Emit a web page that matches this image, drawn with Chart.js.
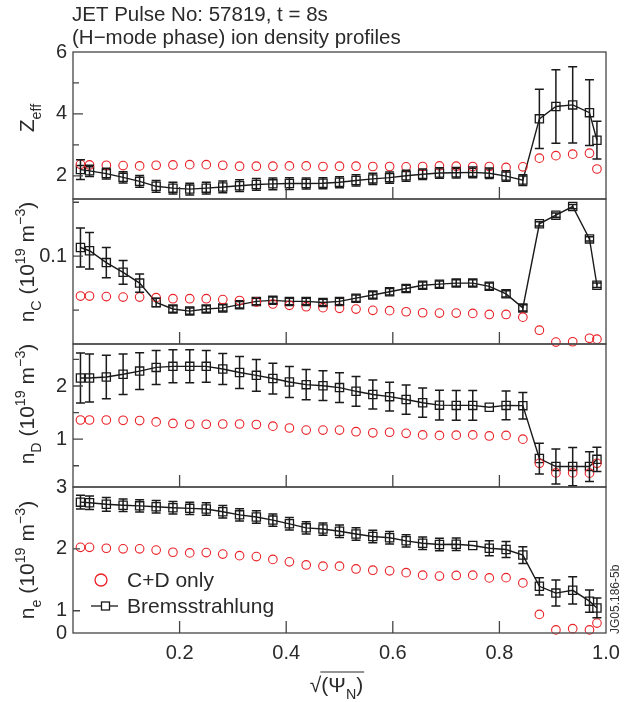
<!DOCTYPE html>
<html>
<head>
<meta charset="utf-8">
<script src="https://cdn.jsdelivr.net/npm/chart.js@4.4.1/dist/chart.umd.min.js"></script>
<style>
  body { margin: 0; background: #fff; }
  #wrap { position: relative; width: 633px; height: 702px; }
  #wrap canvas { position: absolute; left: 0; top: 0; }
</style>
</head>
<body>
<div id="wrap">
  <canvas id="zeff" width="633" height="702"></canvas>
  <canvas id="nc" width="633" height="702"></canvas>
  <canvas id="nd" width="633" height="702"></canvas>
  <canvas id="ne" width="633" height="702"></canvas>
</div>
<script>
// sqrt(psi_N) positions of the profile points
const psi = [0.014, 0.031, 0.0625, 0.094, 0.125, 0.156, 0.1875, 0.219, 0.25, 0.281, 0.3125, 0.344, 0.375, 0.406, 0.4375, 0.469, 0.5,
    0.531, 0.5625, 0.594, 0.625, 0.656, 0.6875, 0.719, 0.75, 0.781, 0.8125, 0.844, 0.875, 0.906, 0.9375, 0.969, 0.983]

const xTicks = [0.2, 0.4, 0.6, 0.8, 1.0]
const xTickLabels = ['0.2', '0.4', '0.6', '0.8', '1.0']

// Z_eff
const zeffCD = [2.37, 2.35, 2.34, 2.33, 2.32, 2.34, 2.35, 2.36, 2.36, 2.34, 2.31, 2.31, 2.31, 2.32, 2.32, 2.30, 2.31, 2.31, 2.30, 2.30,
    2.29, 2.30, 2.32, 2.31, 2.30, 2.30, 2.27, 2.29, 2.57, 2.65, 2.70, 2.73, 2.22]
const zeffBrems = [2.2, 2.16, 2.07, 1.95, 1.82, 1.66, 1.6, 1.57, 1.6, 1.64, 1.68, 1.72, 1.74, 1.75, 1.75, 1.76, 1.79, 1.85, 1.9, 1.94,
    2.0, 2.05, 2.09, 2.1, 2.11, 2.08, 1.99, 1.86, 3.84, 4.24, 4.29, 4.04, 3.15]
const zeffErr = [0.32, 0.18, 0.17, 0.18, 0.19, 0.19, 0.19, 0.19, 0.19, 0.19, 0.19, 0.19, 0.19, 0.19, 0.18, 0.18, 0.18, 0.18, 0.18, 0.18,
    0.18, 0.17, 0.17, 0.17, 0.17, 0.17, 0.17, 0.17, 0.96, 1.19, 1.23, 1.06, 0.61]
const zeffTicks = [2, 3, 4, 5, 6]
const zeffTickLabels = ['2', '', '4', '', '6']

// n_C
const ncCD = [0.063, 0.063, 0.0625, 0.062, 0.062, 0.0615, 0.0605, 0.0605, 0.0605, 0.0597, 0.0588, 0.0575, 0.0556, 0.0544, 0.0531,
    0.0522, 0.0516, 0.0509, 0.0497, 0.0494, 0.0484, 0.0475, 0.0472, 0.0472, 0.0469, 0.0459, 0.0459, 0.0434, 0.0313, 0.0203, 0.0206,
    0.0238, 0.023]
const ncBrems = [0.108, 0.105, 0.094, 0.085, 0.075, 0.057, 0.051, 0.049, 0.051, 0.052, 0.055, 0.058, 0.059, 0.058, 0.058, 0.057,
    0.058, 0.061, 0.064, 0.067, 0.070, 0.073, 0.074, 0.075, 0.075, 0.072, 0.065, 0.052, 0.130, 0.138, 0.146, 0.116, 0.073]
const ncErr = [0.018, 0.017, 0.014, 0.011, 0.0085, 0.004, 0.003, 0.003, 0.003, 0.003, 0.003, 0.003, 0.003, 0.003, 0.003, 0.003,
    0.003, 0.003, 0.003, 0.003, 0.003, 0.003, 0.003, 0.003, 0.003, 0.003, 0.003, 0.003, 0.002, 0.002, 0.002, 0.002, 0.002]
const ncTicks = [0.05, 0.1, 0.15]
const ncTickLabels = ['', '0.1', '']

// n_D
const ndCD = [1.36, 1.36, 1.36, 1.355, 1.35, 1.325, 1.295, 1.28, 1.28, 1.285, 1.285, 1.275, 1.245, 1.21, 1.17, 1.17, 1.17, 1.14,
    1.12, 1.13, 1.11, 1.08, 1.07, 1.075, 1.08, 1.06, 1.07, 1.0, 0.545, 0.365, 0.365, 0.36, 0.545]
const ndBrems = [2.15, 2.15, 2.17, 2.22, 2.28, 2.35, 2.37, 2.37, 2.37, 2.32, 2.255, 2.2, 2.14, 2.075, 2.025, 2.005, 1.97, 1.9, 1.84,
    1.8, 1.745, 1.685, 1.64, 1.635, 1.635, 1.6, 1.635, 1.63, 0.635, 0.485, 0.485, 0.485, 0.62]
const ndErr = [0.47, 0.45, 0.41, 0.38, 0.345, 0.32, 0.31, 0.31, 0.3, 0.29, 0.3, 0.3, 0.29, 0.29, 0.285, 0.28, 0.28, 0.28, 0.275,
    0.27, 0.275, 0.275, 0.28, 0.28, 0.28, 0, 0.27, 0.25, 0.29, 0.33, 0.36, 0.28, 0.23]
const ndTicks = [0.5, 1, 1.5, 2, 2.5]
const ndTickLabels = ['', '1', '', '2', '']

// n_e
const neCD = [2.025, 2.025, 2.01, 2.0, 2.0, 1.98, 1.945, 1.935, 1.94, 1.915, 1.89, 1.875, 1.83, 1.79, 1.74, 1.72, 1.72, 1.675,
    1.655, 1.645, 1.615, 1.575, 1.56, 1.57, 1.575, 1.53, 1.535, 1.45, 0.94, 0.69, 0.71, 0.69, 0.8]
const neBrems = [2.755, 2.745, 2.72, 2.705, 2.695, 2.68, 2.665, 2.655, 2.645, 2.6, 2.55, 2.515, 2.465, 2.405, 2.34, 2.32, 2.285,
    2.24, 2.2, 2.18, 2.13, 2.09, 2.07, 2.075, 2.055, 2.01, 1.99, 1.9, 1.395, 1.285, 1.33, 1.155, 1.045]
const neErr = [0.11, 0.11, 0.11, 0.1, 0.1, 0.1, 0.1, 0.1, 0.1, 0.1, 0.1, 0.1, 0.1, 0.1, 0.1, 0.1, 0.1, 0.1, 0.1, 0.1, 0.1, 0.1,
    0.1, 0.1, 0, 0.12, 0.13, 0.135, 0.14, 0.21, 0.22, 0.18, 0.16]
const neTicks = [0.64, 1, 2, 3]
const neTickLabels = ['0', '1', '2', '3']

const seriesNames = ['C+D only', 'Bremsstrahlung']

const FONT = '"Liberation Sans", Arial, Helvetica, sans-serif'
const INK = '#2a2a2a'
const RED = 'rgb(234, 32, 38)'
Chart.defaults.font.family = FONT
Chart.defaults.color = INK

// writes text with sub/superscript parts, centred on 0
function richText(ctx, parts, size) {
    let w = 0
    parts.forEach(p => {
        ctx.font = (p.s ? size * 0.68 : size) + 'px ' + FONT
        w += ctx.measureText(p.t).width
    })
    let x = -w / 2
    parts.forEach(p => {
        ctx.font = (p.s ? size * 0.68 : size) + 'px ' + FONT
        const dy = p.s === 'sub' ? size * 0.32 : p.s === 'sup' ? -size * 0.42 : 0
        ctx.fillText(p.t, x, dy)
        x += ctx.measureText(p.t).width
    })
    return w
}

const panelDecor = {
    id: 'panelDecor',
    afterDatasetsDraw(chart, args, o) {
        const { ctx, chartArea: a, scales: { x, y } } = chart
        const pts = chart.data.datasets[1].data
        ctx.save()

        // error bars on the Bremsstrahlung points
        ctx.strokeStyle = '#1a1a1a'
        ctx.lineWidth = 1.5
        o.err.forEach((e, i) => {
            if (!e) return
            const px = x.getPixelForValue(pts[i].x)
            const top = y.getPixelForValue(pts[i].y + e)
            const bot = y.getPixelForValue(pts[i].y - e)
            ctx.beginPath()
            ctx.moveTo(px, top); ctx.lineTo(px, bot)
            ctx.moveTo(px - 4.5, top); ctx.lineTo(px + 4.5, top)
            ctx.moveTo(px - 4.5, bot); ctx.lineTo(px + 4.5, bot)
            ctx.stroke()
        })

        // box and inward ticks
        ctx.strokeStyle = '#454545'
        ctx.lineWidth = 1.3
        ctx.strokeRect(a.left, a.top, a.right - a.left, a.bottom - a.top)
        ctx.beginPath()
        xTicks.forEach(v => {
            const px = x.getPixelForValue(v)
            if (px > a.right - 2) return
            ctx.moveTo(px, a.bottom); ctx.lineTo(px, a.bottom - 12)
        })
        y.ticks.forEach((t, i) => {
            const py = y.getPixelForValue(t.value)
            if (py < a.top + 2 || py > a.bottom - 2) return
            const len = o.tickLabels[i] ? o.major : o.minor
            ctx.moveTo(a.left, py); ctx.lineTo(a.left + len, py)
        })
        ctx.stroke()

        // rotated axis title
        ctx.fillStyle = INK
        ctx.textBaseline = 'alphabetic'
        ctx.translate(o.titleX, o.titleY)
        ctx.rotate(-Math.PI / 2)
        richText(ctx, o.title, 21)
        ctx.restore()
    }
}

const headDecor = {
    id: 'headDecor',
    afterDraw(chart) {
        const ctx = chart.ctx
        ctx.save()
        ctx.fillStyle = INK
        ctx.font = '20.5px ' + FONT
        ctx.textBaseline = 'alphabetic'
        ctx.fillText('JET Pulse No: 57819, t = 8s', 72, 21)
        ctx.fillText('(H\u2212mode phase) ion density profiles', 72, 44)
        ctx.restore()
    }
}

const footDecor = {
    id: 'footDecor',
    afterDraw(chart) {
        const { ctx, chartArea: a } = chart
        ctx.save()
        ctx.fillStyle = INK

        // legend
        const lx = a.left + 28
        ctx.strokeStyle = RED
        ctx.lineWidth = 1.3
        ctx.beginPath()
        ctx.arc(lx, 580, 6, 0, Math.PI * 2)
        ctx.stroke()
        ctx.strokeStyle = '#1a1a1a'
        ctx.beginPath()
        ctx.moveTo(lx - 10, 606); ctx.lineTo(lx + 17, 606)
        ctx.stroke()
        ctx.fillStyle = '#fff'
        ctx.fillRect(lx + 0.5, 602, 8, 8)
        ctx.strokeRect(lx + 0.5, 602, 8, 8)
        ctx.fillStyle = INK
        ctx.font = '21px ' + FONT
        ctx.textBaseline = 'middle'
        ctx.fillText(seriesNames[0], a.left + 54, 581)
        ctx.fillText(seriesNames[1], a.left + 54, 607)

        // x axis title: sqrt(Psi_N)
        ctx.textBaseline = 'alphabetic'
        ctx.translate((a.left + a.right) / 2 - 3, 692)
        const w = richText(ctx, [{ t: '\u221A' }, { t: '(\u03A8' }, { t: 'N', s: 'sub' }, { t: ')' }], 21)
        ctx.font = '21px ' + FONT
        const rootW = ctx.measureText('\u221A').width
        ctx.strokeStyle = INK
        ctx.lineWidth = 1.1
        ctx.beginPath()
        ctx.moveTo(-w / 2 + rootW - 1, -20); ctx.lineTo(w / 2 + 1, -20)
        ctx.stroke()
        ctx.setTransform(1, 0, 0, 1, 0, 0)

        // figure reference
        ctx.font = '12px ' + FONT
        ctx.fillStyle = '#333'
        ctx.translate(616, 634)
        ctx.rotate(-Math.PI / 2)
        ctx.textBaseline = 'middle'
        ctx.fillText('JG05.186-5b', 0, 0)
        ctx.restore()
    }
}

function pairs(vals) {
    return psi.map((v, i) => ({ x: v, y: vals[i] }))
}

function makePanel(id, p) {
    const plugins = [panelDecor]
    if (p.head) plugins.push(headDecor)
    if (p.foot) plugins.push(footDecor)
    return new Chart(document.getElementById(id), {
        type: 'line',
        data: {
            datasets: [{
                label: seriesNames[0],
                data: pairs(p.cd),
                showLine: false,
                pointStyle: 'circle',
                pointRadius: 4.3,
                pointBorderWidth: 1.1,
                pointBorderColor: RED,
                pointBackgroundColor: 'rgba(0,0,0,0)',
                clip: false
            }, {
                label: seriesNames[1],
                data: pairs(p.brems),
                borderColor: '#1a1a1a',
                borderWidth: 1.4,
                tension: 0,
                pointStyle: 'rect',
                pointRadius: 5.8,
                pointBorderWidth: 1.3,
                pointBorderColor: '#1a1a1a',
                pointBackgroundColor: 'rgba(0,0,0,0)',
                clip: false
            }]
        },
        options: {
            responsive: false,
            animation: false,
            devicePixelRatio: 1,
            layout: { padding: { left: 0, right: 27, top: p.top, bottom: p.foot ? 702 - p.bottom - 40 : 702 - p.bottom } },
            plugins: {
                legend: { display: false },
                tooltip: { enabled: false },
                panelDecor: { err: p.err, tickLabels: p.tickLabels, major: p.major, minor: p.minor, title: p.title, titleX: 34, titleY: p.titleY }
            },
            scales: {
                x: {
                    type: 'linear',
                    min: 0,
                    max: 1,
                    display: !!p.foot,
                    grid: { display: false, drawTicks: false },
                    border: { display: false },
                    afterBuildTicks: ax => { ax.ticks = xTicks.map(v => ({ value: v })) },
                    afterFit: ax => { ax.height = p.foot ? 40 : 0 },
                    ticks: { autoSkip: false, maxRotation: 0, padding: 8, font: { size: 20 }, callback: (v, i) => xTickLabels[i] }
                },
                y: {
                    type: 'linear',
                    min: p.min,
                    max: p.max,
                    grid: { display: false, drawTicks: false },
                    border: { display: false },
                    afterBuildTicks: ax => { ax.ticks = p.ticks.map(v => ({ value: v })) },
                    afterFit: ax => { ax.width = 73 },
                    ticks: { autoSkip: false, padding: 6, font: { size: 20 }, callback: (v, i) => p.tickLabels[i] }
                }
            }
        },
        plugins: plugins
    })
}

makePanel('zeff', {
    top: 52, bottom: 199, min: 1.25, max: 6, cd: zeffCD, brems: zeffBrems, err: zeffErr,
    ticks: zeffTicks, tickLabels: zeffTickLabels, major: 10, minor: 6, head: true,
    title: [{ t: 'Z' }, { t: 'eff', s: 'sub' }], titleY: 118
})
makePanel('nc', {
    top: 199, bottom: 344, min: 0.0185, max: 0.153, cd: ncCD, brems: ncBrems, err: ncErr,
    ticks: ncTicks, tickLabels: ncTickLabels, major: 10, minor: 6,
    title: [{ t: 'n' }, { t: 'C', s: 'sub' }, { t: ' (10' }, { t: '19', s: 'sup' }, { t: ' m' }, { t: '\u22123', s: 'sup' }, { t: ')' }],
    titleY: 262
})
makePanel('nd', {
    top: 344, bottom: 487, min: 0.1, max: 2.79, cd: ndCD, brems: ndBrems, err: ndErr,
    ticks: ndTicks, tickLabels: ndTickLabels, major: 10, minor: 6,
    title: [{ t: 'n' }, { t: 'D', s: 'sub' }, { t: ' (10' }, { t: '19', s: 'sup' }, { t: ' m' }, { t: '\u22123', s: 'sup' }, { t: ')' }],
    titleY: 404
})
makePanel('ne', {
    top: 487, bottom: 633, min: 0.64, max: 3, cd: neCD, brems: neBrems, err: neErr,
    ticks: neTicks, tickLabels: neTickLabels, major: 7, minor: 7, foot: true,
    title: [{ t: 'n' }, { t: 'e', s: 'sub' }, { t: ' (10' }, { t: '19', s: 'sup' }, { t: ' m' }, { t: '\u22123', s: 'sup' }, { t: ')' }],
    titleY: 560
})
</script>
</body>
</html>
